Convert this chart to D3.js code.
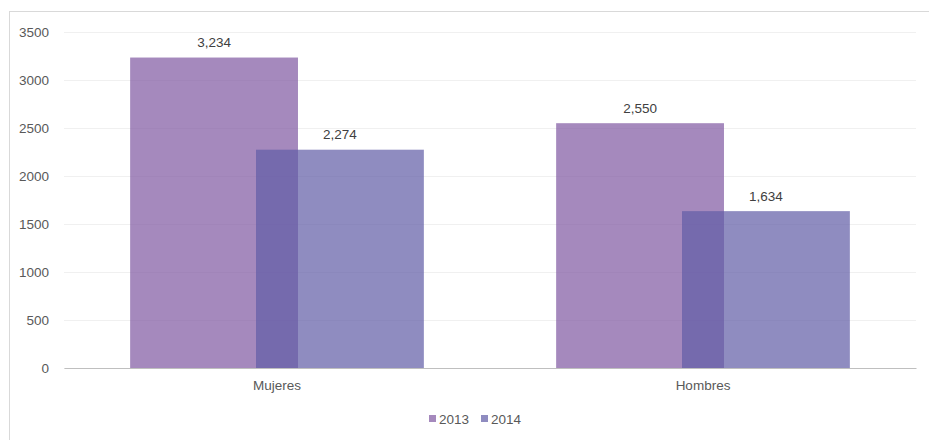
<!DOCTYPE html>
<html><head><meta charset="utf-8">
<script src="https://cdn.jsdelivr.net/npm/d3@7"></script>
<style>
body{margin:0;background:#fff;}
text{font-family:"Liberation Sans",Arial,sans-serif;}
</style></head>
<body><svg id="c" width="929" height="440"></svg>
<script>
const categories = ["Mujeres","Hombres"];
const seriesNames = ["2013","2014"];
const values2013 = [3234, 2550];
const values2014 = [2274, 1634];
const yTicks = [0,500,1000,1500,2000,2500,3000,3500];
const colors = ["rgb(128,89,162)","rgb(97,93,166)"];

const svg = d3.select("#c");
const m = {left:64, right:13, top:32, bottom:72};
const W = 929, H = 440;
const x0 = d3.scaleBand().domain(categories).range([m.left, W-m.right]);
const y = d3.scaleLinear().domain([0,3500]).range([368, 32]);

svg.append("rect").attr("x",9.5).attr("y",11.5).attr("width",960).attr("height",460)
  .attr("fill","#fff").attr("stroke","#d9d9d9");

// gridlines
svg.append("g").attr("transform",`translate(${m.left},0)`)
  .call(d3.axisLeft(y).tickValues(yTicks).tickSize(-(W-m.right-m.left)).tickFormat(""))
  .call(g=>g.select(".domain").remove())
  .call(g=>g.selectAll("line").attr("stroke","#f0f0f0"));

// y labels
svg.append("g").attr("transform",`translate(49,0)`)
  .call(d3.axisLeft(y).tickValues(yTicks).tickSize(0).tickPadding(0).tickFormat(d3.format("d")))
  .call(g=>g.select(".domain").remove())
  .call(g=>g.selectAll("text").attr("fill","#595959").style("font-size","13.5px").style("font-family","Liberation Sans"));

const bw = x0.bandwidth();
const barW = bw*0.394;
const offset = barW*0.75;
const groupW = barW + offset;
const series = [values2013, values2014];

series.forEach((vals,si)=>{
  const g = svg.append("g");
  g.selectAll("rect").data(vals).join("rect")
    .attr("x",(d,i)=>x0(categories[i]) + (bw-groupW)/2 + si*offset)
    .attr("y",d=>y(d)).attr("width",barW).attr("height",d=>y(0)-y(d))
    .attr("fill",colors[si]).attr("fill-opacity",0.71);
});
series.forEach((vals,si)=>{
  svg.append("g").selectAll("text").data(vals).join("text")
    .attr("x",(d,i)=>x0(categories[i]) + (bw-groupW)/2 + si*offset + barW/2)
    .attr("y",d=>y(d)-10.5)
    .attr("text-anchor","middle").attr("fill","#404040").style("font-size","13.5px")
    .text(d=>d3.format(",")(d));
});

// x axis
svg.append("g").attr("transform",`translate(0,368)`)
  .call(d3.axisBottom(x0).tickSize(0).tickPadding(12.5))
  .call(g=>g.select(".domain").attr("stroke","#bfbfbf"))
  .call(g=>g.selectAll("text").attr("fill","#595959").style("font-size","13.5px").style("font-family","Liberation Sans"));

// legend
const leg = svg.append("g");
const lx = [429, 481];
seriesNames.forEach((n,i)=>{
  leg.append("rect").attr("x",lx[i]).attr("y",415).attr("width",7).attr("height",7)
    .attr("fill",colors[i]).attr("fill-opacity",0.71);
  leg.append("text").attr("x",lx[i]+10).attr("y",423.5).attr("fill","#595959")
    .style("font-size","13.5px").text(n);
});
</script></body></html>
